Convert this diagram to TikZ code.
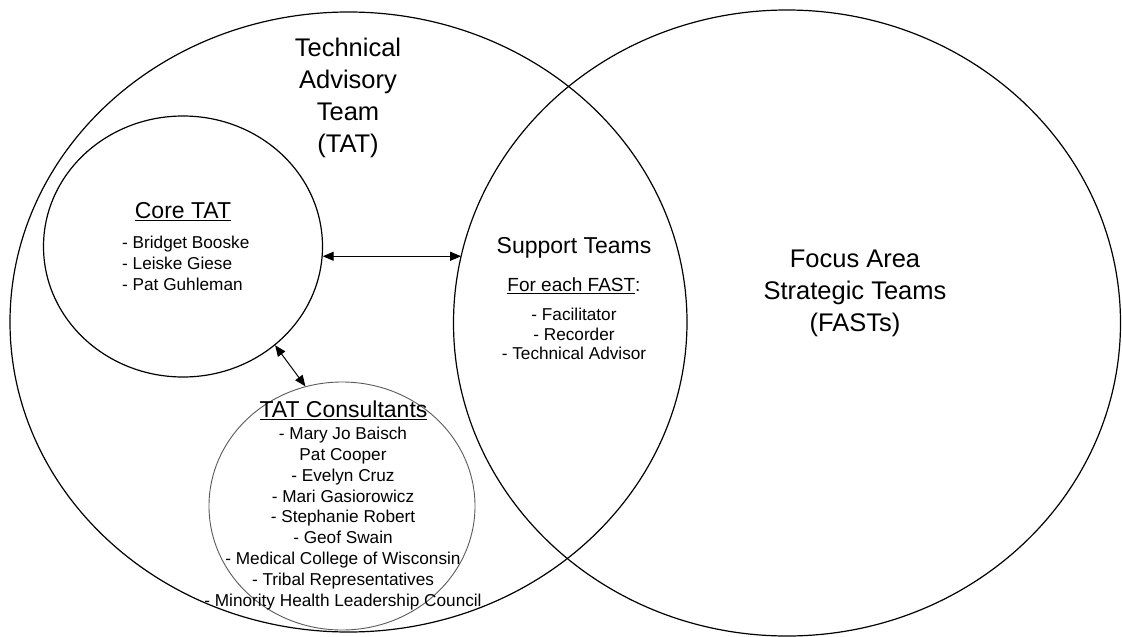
\documentclass[tikz,border=0pt]{standalone}
\usepackage{fontspec}
\setmainfont{Liberation Sans}
\usetikzlibrary{shapes.geometric,arrows.meta}
\definecolor{thingray}{RGB}{90,90,90}
\tikzset{
  bigoval/.style={ellipse, draw=black, line width=1.2pt, inner sep=0pt},
  grayoval/.style={ellipse, draw=thingray, line width=0.9pt, inner sep=0pt},
  biglabel/.style={align=center, inner sep=0pt, font=\fontsize{25.5}{32}\selectfont},
  headlabel/.style={align=center, inner sep=0pt, font=\fontsize{23}{28}\selectfont},
  listlabel/.style={inner sep=0pt, font=\fontsize{17.2}{20.9}\selectfont},
  twoway/.style={{Triangle[length=11pt,width=9pt]}-{Triangle[length=11pt,width=9pt]}, line width=1pt}
}
\begin{document}
\begin{tikzpicture}[x=1pt,y=-1pt]
\useasboundingbox (0,0) rectangle (1122,637);
% ovals
\node[bigoval, minimum width=677pt, minimum height=620pt] (tat) at (348.5,322) {};
\node[bigoval, minimum width=667pt, minimum height=626pt] (fasts) at (787,323) {};
\node[bigoval, minimum width=279pt, minimum height=261pt] (core) at (183,246.5) {};
\node[grayoval, minimum width=266pt, minimum height=248pt] (cons) at (342,506) {};
% texts
\node[biglabel] (tattitle) at (348,98) {Technical\\Advisory\\Team\\(TAT)};
\node[biglabel] (fastsname) at (855,293) {Focus Area\\Strategic Teams\\(FASTs)};
\node[headlabel] (coretitle) at (183,212) {\underline{Core TAT}};
\node[listlabel, align=left, anchor=west] (corelist) at (122,263) {- Bridget Booske\\- Leiske Giese\\- Pat Guhleman};
\node[headlabel] (support) at (574,248) {Support Teams};
\node[inner sep=0pt, font=\fontsize{19}{23}\selectfont] (foreach) at (574,286) {\underline{For each FAST}:};
\node[listlabel, align=center, font=\fontsize{17.2}{19.5}\selectfont] (roles) at (574,334) {- Facilitator\\- Recorder\\- Technical Advisor};
\node[headlabel] (constitle) at (343.5,410) {\underline{TAT Consultants}};
\node[listlabel, align=center] (conslist) at (343,518.5) {- Mary Jo Baisch\\Pat Cooper\\- Evelyn Cruz\\- Mari Gasiorowicz\\- Stephanie Robert\\- Geof Swain\\- Medical College of Wisconsin\\- Tribal Representatives\\- Minority Health Leadership Council};
% arrows
\draw[twoway] (core.-4.3) -- (core.-4.3 -| fasts.168.6);
\draw[twoway] (core.-47) -- (cons.107.6);
\end{tikzpicture}
\end{document}
